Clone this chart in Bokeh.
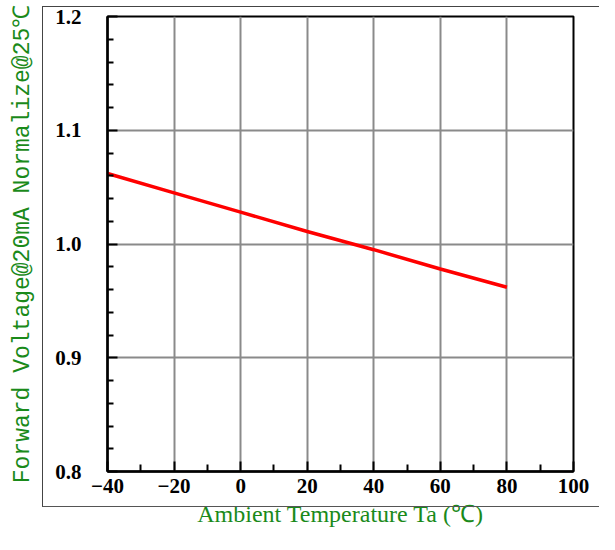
from bokeh.plotting import figure
from bokeh.models import Range1d, FixedTicker, PrintfTickFormatter, InlineStyleSheet
from bokeh.embed import file_html
from bokeh.resources import INLINE

# ---- data ----
temps = [-40, -20, 0, 20, 40, 60, 80]
vf_norm = [1.062, 1.045, 1.028, 1.011, 0.995, 0.978, 0.962]

x_ticks = [-40, -20, 0, 20, 40, 60, 80, 100]
x_minor = [-30, -10, 10, 30, 50, 70, 90]
y_ticks = [0.8, 0.9, 1.0, 1.1, 1.2]
y_minor = [0.82, 0.84, 0.86, 0.88, 0.92, 0.94, 0.96, 0.98,
           1.02, 1.04, 1.06, 1.08, 1.12, 1.14, 1.16, 1.18]
x_grid = [-20, 0, 20, 40, 60, 80]
y_grid = [0.9, 1.0, 1.1]

x_title = "Ambient Temperature Ta (\u2103)"
y_title = "Forward Voltage@20mA Normalize@25\u2103"

GREEN = "#1a8a1a"

p = figure(width=599, height=534,
           x_range=Range1d(-40, 100), y_range=Range1d(0.8, 1.2),
           output_backend="svg", toolbar_location=None,
           min_border_left=107, min_border_right=26,
           min_border_top=16, min_border_bottom=63)

p.outline_line_color = "black"
p.outline_line_width = 2
p.outline_line_alpha = 1.0

# outer frame box around the chart (drawn with CSS on the figure host)
p.stylesheets = [InlineStyleSheet(css="""
:host { position: relative; }
:host::after {
  content: "";
  position: absolute;
  left: 42px; top: 6px; width: 557px; height: 501px;
  box-sizing: border-box;
  border-left: 1.5px solid #444;
  border-top: 1.5px solid #444;
  border-bottom: 1.5px solid #555;
  pointer-events: none;
}
""")]

# axes
p.xaxis.ticker = FixedTicker(ticks=x_ticks, minor_ticks=x_minor)
p.yaxis.ticker = FixedTicker(ticks=y_ticks, minor_ticks=y_minor)
p.yaxis.formatter = PrintfTickFormatter(format="%.1f")

for ax in (p.xaxis[0], p.yaxis[0]):
    ax.axis_line_color = "black"
    ax.axis_line_width = 2.5
    ax.major_tick_line_color = "black"
    ax.major_tick_line_width = 2
    ax.minor_tick_line_color = "black"
    ax.minor_tick_line_width = 2
    ax.major_tick_out = 0
    ax.minor_tick_out = 0
    ax.major_label_text_font = "Liberation Serif"
    ax.major_label_text_font_style = "bold"
    ax.major_label_text_font_size = "21px"
    ax.major_label_text_color = "black"
    ax.axis_label_text_color = GREEN
    ax.axis_label_text_font_style = "normal"

p.xaxis.major_tick_in = 10
p.xaxis.minor_tick_in = 7
p.yaxis.major_tick_in = 10
p.yaxis.minor_tick_in = 6

p.xaxis.major_label_standoff = 7
p.yaxis.major_label_standoff = 26

p.xaxis.axis_label = x_title
p.xaxis.axis_label_text_font = "Liberation Serif"
p.xaxis.axis_label_text_font_size = "24px"
p.xaxis.axis_label_standoff = 5

p.yaxis.axis_label = y_title
p.yaxis.axis_label_text_font = "Liberation Mono"
p.yaxis.axis_label_text_font_size = "23px"
p.yaxis.axis_label_standoff = 16

# grid
p.xgrid.ticker = FixedTicker(ticks=x_grid)
p.ygrid.ticker = FixedTicker(ticks=y_grid)
for g in (p.xgrid[0], p.ygrid[0]):
    g.grid_line_color = "#8a8a8a"
    g.grid_line_width = 2

# data line
p.line(temps, vf_norm, line_color="#ff0000", line_width=3.5)

open("out.html", "w").write(file_html(p, INLINE))
